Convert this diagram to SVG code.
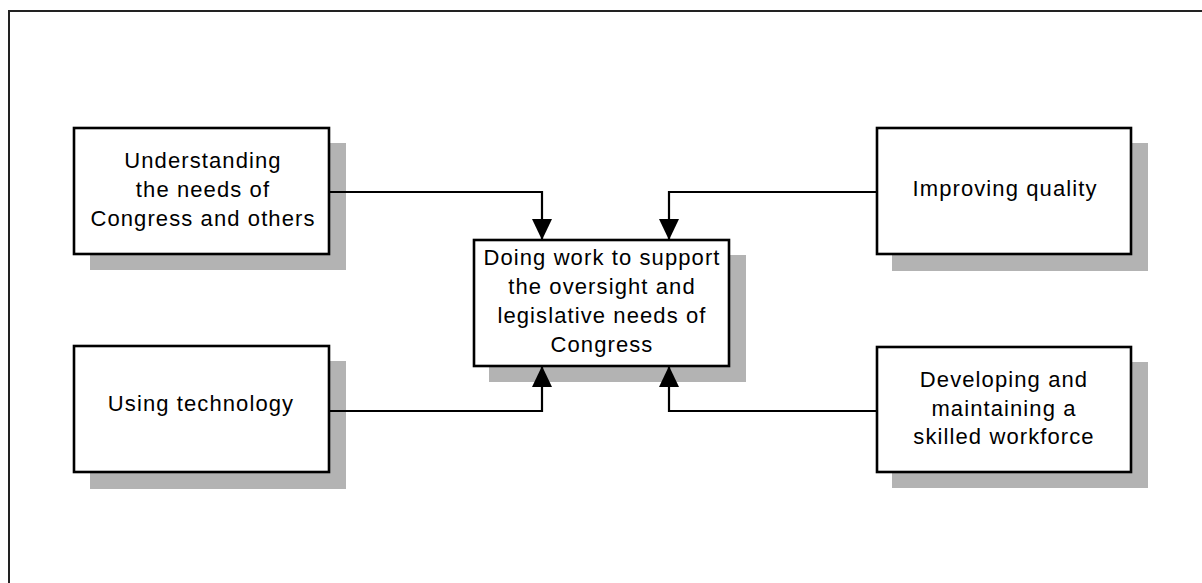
<svg xmlns="http://www.w3.org/2000/svg" width="1202" height="583" viewBox="0 0 1202 583">
<style>
.shadow{fill:#b3b3b3;stroke:none}
.box{fill:#ffffff;stroke:#000000;stroke-width:2.6}
.lbl{font-family:"Liberation Sans",Arial,sans-serif;font-size:22px;letter-spacing:1.1px;fill:#000000;text-anchor:middle}
.conn{fill:none;stroke:#000000;stroke-width:2.2}
.frame{fill:none;stroke:#222222;stroke-width:2}
</style>
<defs>
<marker id="arrow" markerUnits="userSpaceOnUse" markerWidth="22" markerHeight="22" viewBox="0 0 22 22" refX="21" refY="11" orient="auto">
<path d="M0,1 L21,11 L0,21 Z" fill="#000000"/>
</marker>
</defs>
<rect width="1202" height="583" fill="#ffffff"/>
<path class="frame" d="M9,583 L9,11 L1202,11"/>

<g id="node-understanding">
<rect class="shadow" x="90" y="143" width="256" height="127"/>
<rect class="box" x="74" y="128" width="255" height="126"/>
<text class="lbl" x="203" y="168">Understanding</text>
<text class="lbl" x="203" y="197">the needs of</text>
<text class="lbl" x="203" y="226">Congress and others</text>
</g>

<g id="node-improving">
<rect class="shadow" x="892" y="143" width="256" height="128"/>
<rect class="box" x="877" y="128" width="254" height="126"/>
<text class="lbl" x="1005" y="196">Improving quality</text>
</g>

<g id="node-center">
<rect class="shadow" x="489" y="255" width="257" height="127"/>
<rect class="box" x="474" y="240" width="255" height="126"/>
<text class="lbl" x="602" y="265">Doing work to support</text>
<text class="lbl" x="602" y="294">the oversight and</text>
<text class="lbl" x="602" y="323">legislative needs of</text>
<text class="lbl" x="602" y="352">Congress</text>
</g>

<g id="node-technology">
<rect class="shadow" x="90" y="361" width="256" height="128"/>
<rect class="box" x="74" y="346" width="255" height="126"/>
<text class="lbl" x="201" y="411">Using technology</text>
</g>

<g id="node-workforce">
<rect class="shadow" x="892" y="362" width="256" height="126"/>
<rect class="box" x="877" y="347" width="254" height="125"/>
<text class="lbl" x="1004" y="387">Developing and</text>
<text class="lbl" x="1004" y="416">maintaining a</text>
<text class="lbl" x="1004" y="444">skilled workforce</text>
</g>

<g id="connectors">
<path class="conn" d="M329,192 L542,192 L542,240" marker-end="url(#arrow)"/>
<path class="conn" d="M877,192 L669,192 L669,240" marker-end="url(#arrow)"/>
<path class="conn" d="M329,411 L542,411 L542,366" marker-end="url(#arrow)"/>
<path class="conn" d="M877,411 L669,411 L669,366" marker-end="url(#arrow)"/>
</g>
</svg>
